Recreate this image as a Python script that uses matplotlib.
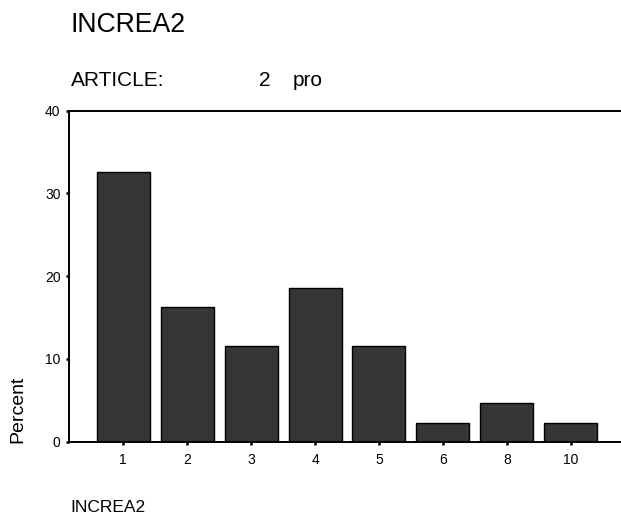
import matplotlib
matplotlib.use("Agg")
import matplotlib.pyplot as plt

plt.rcParams['font.family'] = ['Liberation Sans', 'DejaVu Sans']

categories = ["1", "2", "3", "4", "5", "6", "8", "10"]
percent = [32.6, 16.3, 11.6, 18.6, 11.6, 2.3, 4.7, 2.3]
y_ticks = [0, 10, 20, 30, 40]

W, H = 621, 521
fig = plt.figure(figsize=(W / 100, H / 100), dpi=100)

left, right, top, bottom = 69.3, 621, 110.7, 441.7
ax = fig.add_axes([left / W, 1 - bottom / H, (right - left) / W, (bottom - top) / H])

x = list(range(len(categories)))
ax.bar(x, percent, width=0.83, color="#363636", edgecolor="black", linewidth=1.0, zorder=2)

ax.set_xlim(-0.845, 7.787)
ax.set_ylim(0, 40)
ax.set_xticks(x)
ax.set_xticklabels(categories)
ax.set_yticks(y_ticks)
ax.set_yticklabels([str(v) for v in y_ticks])

for s in ("left", "bottom", "top"):
    ax.spines[s].set_linewidth(1.4)
    ax.spines[s].set_color("black")
ax.spines["right"].set_visible(False)

ax.tick_params(axis="both", direction="out", length=2.3, width=1.8, labelsize=10, colors="black")
ax.tick_params(axis="y", pad=4)
ax.tick_params(axis="x", pad=6)

fig.text(17.5 / W, 1 - 409 / H, "Percent", rotation=90, fontsize=14, ha="center", va="center")
fig.text(70.7 / W, 1 - 31.7 / H, "INCREA2", fontsize=19.2, ha="left", va="baseline")
fig.text(70.7 / W, 1 - 86 / H, "ARTICLE:", fontsize=15, ha="left", va="baseline")
fig.text(259 / W, 1 - 86 / H, "2", fontsize=15, ha="left", va="baseline")
fig.text(293 / W, 1 - 86 / H, "pro", fontsize=15, ha="left", va="baseline")
fig.text(70.7 / W, 1 - 511.7 / H, "INCREA2", fontsize=12.5, ha="left", va="baseline")

fig.savefig("out.png", dpi=100)
